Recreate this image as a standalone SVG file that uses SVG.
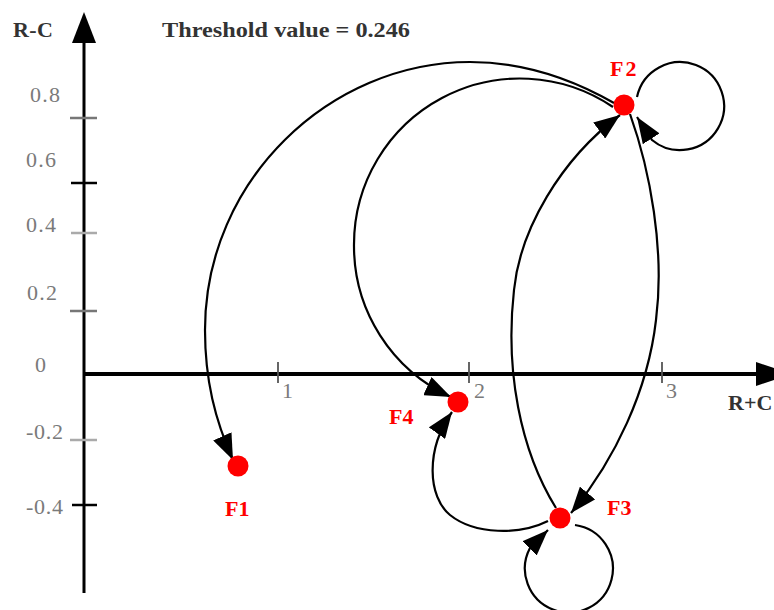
<svg xmlns="http://www.w3.org/2000/svg" width="774" height="610" viewBox="0 0 774 610">
<style>
.lbl{font-family:"Liberation Serif","Times New Roman",serif;font-size:22px;fill:#7a7a7a}
.ttl{font-family:"Liberation Serif","Times New Roman",serif;font-size:22px;font-weight:bold;fill:#333}
.nl{font-family:"Liberation Serif","Times New Roman",serif;font-size:22px;font-weight:bold;fill:#ff0000}
.edge{fill:none;stroke:#000;stroke-width:2.2}
.node{fill:#ff0000}
.tk{stroke-width:2.5}
</style>
<defs>
<marker id="ah" viewBox="0 0 26 20" refX="26" refY="10" markerWidth="26" markerHeight="20" markerUnits="userSpaceOnUse" orient="auto"><path d="M0,0 L26,10 L0,20 z" fill="#000"/></marker>
</defs>
<rect width="774" height="610" fill="#fff"/>
<g id="axes">
<line x1="84" y1="38" x2="84" y2="593" stroke="#000" stroke-width="3"/>
<polygon points="84,12 96,43 72,43" fill="#000"/>
<line x1="84" y1="374" x2="760" y2="374" stroke="#000" stroke-width="4"/>
<polygon points="756,362 792,374 756,386" fill="#000"/>
<line class="tk" x1="70" y1="118" x2="97" y2="118" stroke="#777"/>
<line class="tk" x1="71" y1="183" x2="97" y2="183" stroke="#000"/>
<line class="tk" x1="71" y1="233" x2="97" y2="233" stroke="#aaa"/>
<line class="tk" x1="70" y1="311" x2="97" y2="311" stroke="#777"/>
<line class="tk" x1="70" y1="440" x2="97" y2="440" stroke="#aaa"/>
<line class="tk" x1="72" y1="505" x2="97" y2="505" stroke="#000"/>
<line x1="278" y1="362" x2="278" y2="383" stroke="#555" stroke-width="1.8"/>
<line x1="469" y1="362" x2="469" y2="383" stroke="#555" stroke-width="1.8"/>
<line x1="662" y1="362" x2="662" y2="383" stroke="#555" stroke-width="1.8"/>
<text class="lbl" x="30" y="102" textLength="30">0.8</text>
<text class="lbl" x="26" y="167" textLength="30">0.6</text>
<text class="lbl" x="26" y="232" textLength="30">0.4</text>
<text class="lbl" x="27" y="300" textLength="30">0.2</text>
<text class="lbl" x="35" y="372">0</text>
<text class="lbl" x="26" y="439" textLength="37">-0.2</text>
<text class="lbl" x="26" y="514" textLength="37">-0.4</text>
<text class="lbl" x="282" y="398">1</text>
<text class="lbl" x="474" y="398">2</text>
<text class="lbl" x="666" y="398">3</text>
<text class="ttl" x="13" y="37" textLength="40">R-C</text>
<text class="ttl" x="728" y="410">R+C</text>
<text class="ttl" x="162" y="37" textLength="248" lengthAdjust="spacingAndGlyphs">Threshold value = 0.246</text>
</g>
<g id="connectors">
<path class="edge" marker-end="url(#ah)" d="M614,103 C560,72 510,62 470,62 C330,62 205,180 205,330 C205,380 215,420 233,460"/>
<path class="edge" marker-end="url(#ah)" d="M613,107 A166,166 0 0 0 354,245 A166,166 0 0 0 451,397"/>
<path class="edge" marker-end="url(#ah)" d="M556,508 C520,450 505,370 514,290 C520,230 560,160 620,115"/>
<path class="edge" marker-end="url(#ah)" d="M630,114 C650,170 665,250 656,320 C648,390 615,460 571,513"/>
<path class="edge" marker-end="url(#ah)" d="M548,521 C520,535 475,535 450,515 C428,497 425,450 452,412"/>
<path class="edge" marker-end="url(#ah)" d="M637,97 A44,44 0 1 1 652,140 L637,117"/>
<path class="edge" marker-end="url(#ah)" d="M575,525 A44,44 0 1 1 530,548 L548,530"/>
</g>
<g id="F1"><circle class="node" cx="238" cy="466" r="10.5"/><text class="nl" x="225" y="516">F1</text></g>
<g id="F2"><circle class="node" cx="624" cy="105" r="10.5"/><text class="nl" x="610" y="76" letter-spacing="2">F2</text></g>
<g id="F3"><circle class="node" cx="560" cy="518" r="10.5"/><text class="nl" x="607" y="515">F3</text></g>
<g id="F4"><circle class="node" cx="458" cy="402" r="10.5"/><text class="nl" x="389" y="424">F4</text></g>
</svg>
